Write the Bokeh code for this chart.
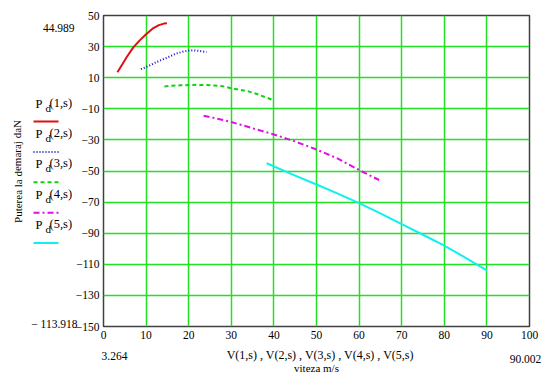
from bokeh.plotting import figure
from bokeh.models import (Label, FixedTicker, CustomJSTickFormatter, Range1d,
                          GridBox, Row)
from bokeh.embed import file_html
from bokeh.resources import INLINE

# ---- data ----
v1 = [3.264, 4.5, 5.5, 7.0, 8.5, 10.0, 11.5, 13.0, 14.2, 14.9]
p1 = [13.5, 19.0, 23.5, 29.5, 34.0, 38.0, 41.5, 43.8, 44.8, 44.989]

v2 = [8.8, 10.5, 12.0, 13.5, 15.0, 17.0, 19.0, 20.5, 22.0, 24.2]
p2 = [15.5, 17.5, 19.5, 21.3, 23.0, 25.5, 27.0, 27.6, 27.4, 26.5]

v3 = [14.3, 16, 18, 20, 22, 24, 26, 28, 30, 32, 34, 36, 38, 39.7]
p3 = [4.4, 4.8, 5.1, 5.3, 5.4, 5.3, 5.0, 4.5, 3.2, 2.2, 1.2, -0.5, -2.5, -4.3]

v4 = [23.5, 27, 30, 35, 40, 45, 50, 55, 60, 64.7]
p4 = [-14.5, -16.5, -18.5, -22.5, -26.5, -31.0, -36.2, -42.0, -49.4, -55.8]

v5 = [38.3, 45, 50, 55, 60, 65, 70, 75, 80, 85, 90.002]
p5 = [-45.0, -53.0, -58.7, -64.5, -70.7, -77.3, -84.2, -91.0, -98.0, -105.8, -113.918]

x_ticks = [0, 10, 20, 30, 40, 50, 60, 70, 80, 90, 100]
y_ticks = [-150, -130, -110, -90, -70, -50, -30, -10, 10, 30, 50]

legend_names = ["(1,s)", "(2,s)", "(3,s)", "(4,s)", "(5,s)"]
bound_labels = ["44.989", "\u2212 113.918", "3.264", "90.002"]
x_title = "V(1,s) , V(2,s) , V(3,s) , V(4,s) , V(5,s)"
x_title2 = "viteza m/s"
y_title = "Puterea la demaraj daN"

colors = ["#e01010", "#1010c0", "#10d010", "#e010e0", "#10f0f0"]
dashes = ["solid", "1 2", "4 3", "6 3 2 3", "solid"]

FONT = "Liberation Serif"
W, H = 554, 376

# ---------------- main chart ----------------
p = figure(width=W, height=H, output_backend="svg", toolbar_location=None,
           title=None, x_range=Range1d(0, 100), y_range=Range1d(-150, 50),
           min_border_left=103, min_border_right=25, min_border_top=15,
           min_border_bottom=50)
p.background_fill_color = "white"
p.border_fill_color = "white"
p.outline_line_color = "#404040"
p.outline_line_width = 1.5

for ax in (p.xaxis[0], p.yaxis[0]):
    ax.axis_line_color = None
    ax.major_tick_in = 0
    ax.major_tick_out = 0
    ax.minor_tick_in = 0
    ax.minor_tick_out = 0
    ax.major_label_text_font = FONT
    ax.major_label_text_font_size = "11.5px"
    ax.major_label_text_color = "black"
    ax.major_label_standoff = 4

p.xaxis.ticker = FixedTicker(ticks=x_ticks)
p.yaxis.ticker = FixedTicker(ticks=y_ticks)
p.yaxis.formatter = CustomJSTickFormatter(
    code="return tick < 0 ? '\u2212' + Math.abs(tick) : String(tick);")

p.xgrid.grid_line_color = "#22e022"
p.ygrid.grid_line_color = "#22e022"
p.xgrid.grid_line_width = 1.5
p.ygrid.grid_line_width = 1.5

series = [(v1, p1), (v2, p2), (v3, p3), (v4, p4), (v5, p5)]
for (vx, vy), c, d in zip(series, colors, dashes):
    p.line(vx, vy, line_color=c, line_width=2, line_dash=d)

# ---------------- transparent overlay (pixel coordinates) for outside texts / legend ----------------
q = figure(width=W, height=H, output_backend="svg", toolbar_location=None,
           title=None, x_range=Range1d(0, W), y_range=Range1d(H, 0),
           x_axis_location=None, y_axis_location=None,
           min_border_left=0, min_border_right=0, min_border_top=0,
           min_border_bottom=0)
q.grid.visible = False
q.outline_line_color = None
q.background_fill_alpha = 0
q.border_fill_alpha = 0

# legend keys (label above, sample line below, as in Mathcad)
KEY_X0, KEY_X1, KEY_Y0, KEY_DY = 33, 58, 121, 30.4
for i, (c, d) in enumerate(zip(colors, dashes)):
    yk = KEY_Y0 + KEY_DY * i
    q.segment(x0=[KEY_X0], y0=[yk], x1=[KEY_X1], y1=[yk],
              line_color=c, line_width=2, line_dash=d)


def lab(x, y, text, size="11.5px", align="left", baseline="middle", angle=0):
    q.add_layout(Label(x=x, y=y, text=text,
                       text_font=FONT, text_font_size=size, text_color="black",
                       text_align=align, text_baseline=baseline, angle=angle))


for i, name in enumerate(legend_names):
    yc = KEY_Y0 - 18 + KEY_DY * i
    lab(35, yc, "P", size="12.5px")
    lab(45, yc + 4, "d", size="11px")
    lab(49, yc - 1, name, size="12.5px")

# Mathcad range markers
lab(74, 27, bound_labels[0], align="right")
lab(77, 323, bound_labels[1], align="right")
lab(114, 355, bound_labels[2], align="center")
lab(525, 358, bound_labels[3], align="center")

# axis titles
lab(320, 354, x_title, size="12px", align="center")
lab(316, 367, x_title2, size="11px", align="center")
lab(17, 171, y_title, size="11px", align="center", angle=1.5708)

layout = GridBox(children=[(Row(children=[p]), 0, 0), (Row(children=[q]), 0, 0)])
open("out.html", "w").write(file_html(layout, INLINE))
